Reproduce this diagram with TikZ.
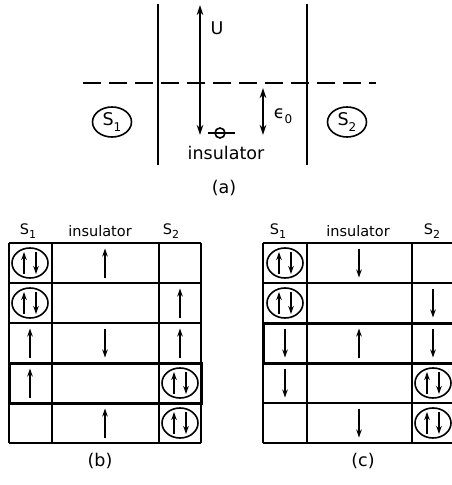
\documentclass[tikz,border=0pt]{standalone}
\usepackage{fontspec}
\setmainfont{DejaVu Sans}
\usetikzlibrary{arrows.meta,shapes.geometric}

% lowered index for S_1, S_2, epsilon_0
\newcommand\lowidx[2]{\raisebox{-0.32em}{\fontsize{#1}{#1}\selectfont #2}}

\tikzset{
  thinline/.style={line width=1.8pt},
  spin/.style={line width=1.8pt, -{Stealth[length=8pt,width=5.5pt]}},
  twohead/.style={line width=1.8pt, {Stealth[length=10pt,width=6.5pt]}-{Stealth[length=10pt,width=6.5pt]}},
  gridline/.style={line width=1.6pt},
  boldrow/.style={line width=3pt},
  pairring/.style={line width=1.6pt},
  biglabel/.style={inner sep=0pt, font=\fontsize{17.5}{17.5}\selectfont},
  headlabel/.style={inner sep=0pt, font=\fontsize{14.5}{14.5}\selectfont},
  siteoval/.style={draw, line width=1.6pt, ellipse, inner sep=0pt, minimum width=39pt, minimum height=30pt},
}

% single spin in a cell centred at (#1,#2)
\newcommand\spinup[2]{\draw[spin] (#1,#2+14.5) -- (#1,#2-14.5);}
\newcommand\spindown[2]{\draw[spin] (#1,#2-14.5) -- (#1,#2+14.5);}
% doubly occupied site: ring with up and down spins
\newcommand\spinpair[2]{%
  \draw[pairring] (#1,#2) ellipse [x radius=18pt, y radius=15pt];
  \draw[spin] (#1-6,#2+11) -- (#1-6,#2-11);
  \draw[spin] (#1+6,#2-11) -- (#1+6,#2+11);}

\begin{document}
\begin{tikzpicture}[x=1pt,y=-1pt]
\useasboundingbox (0,0) rectangle (452,485);

% ---------- (a) energy scheme ----------
\draw[thinline] (158,4) -- (158,165);
\draw[thinline] (307,4) -- (307,165);
\draw[thinline, dash pattern=on 18pt off 8pt] (83,83) -- (376,83);
\draw[twohead] (200,5) -- (200,135);
\node[biglabel] (U) at (217,28) {U};
\draw[twohead] (263,88) -- (263,135);
\node[biglabel] (eps) at (283,116) {ϵ\lowidx{12}{0}};
\draw[line width=1.6pt] (220,133) circle [radius=5pt];
\draw[line width=1.6pt] (208,133) -- (235,133);
\node[biglabel] (ins) at (226,153) {insulator};
\node[biglabel] (capa) at (224,188) {(a)};
\node[siteoval] (s1) at (112,122) {};
\node[biglabel] (s1t) at (112,122) {S\lowidx{12}{1}};
\node[siteoval] (s2) at (347,122) {};
\node[biglabel] (s2t) at (347,122) {S\lowidx{12}{2}};

% ---------- (b) ----------
\node[headlabel] (bh1) at (28,231) {S\lowidx{11}{1}};
\node[headlabel] (bh2) at (100,231) {insulator};
\node[headlabel] (bh3) at (171,231) {S\lowidx{11}{2}};
\foreach \x in {9,52,159,201} \draw[gridline] (\x,243) -- (\x,443);
\foreach \y in {243,283,323,363,403,443} \draw[gridline] (9,\y) -- (201,\y);
\draw[boldrow] (9,363) rectangle (201,403);
\spinpair{30}{263} \spinup{105}{263}
\spinpair{30}{303} \spinup{180}{303}
\spinup{30}{343} \spindown{105}{343} \spinup{180}{343}
\spinup{30}{383} \spinpair{180}{383}
\spinup{105}{423} \spinpair{180}{423}
\node[biglabel] (capb) at (100,461) {(b)};

% ---------- (c) ----------
\node[headlabel] (ch1) at (278,231) {S\lowidx{11}{1}};
\node[headlabel] (ch2) at (358,231) {insulator};
\node[headlabel] (ch3) at (432,231) {S\lowidx{11}{2}};
\foreach \x in {263,307,412,455} \draw[gridline] (\x,243) -- (\x,443);
\foreach \y in {243,283,323,363,403,443} \draw[gridline] (263,\y) -- (455,\y);
\draw[boldrow] (263,323) rectangle (460,363);
\spinpair{285}{263} \spindown{359}{263}
\spinpair{285}{303} \spindown{433}{303}
\spindown{285}{343} \spinup{359}{343} \spindown{433}{343}
\spindown{285}{383} \spinpair{433}{383}
\spindown{359}{423} \spinpair{433}{423}
\node[biglabel] (capc) at (363,461) {(c)};
\end{tikzpicture}
\end{document}
